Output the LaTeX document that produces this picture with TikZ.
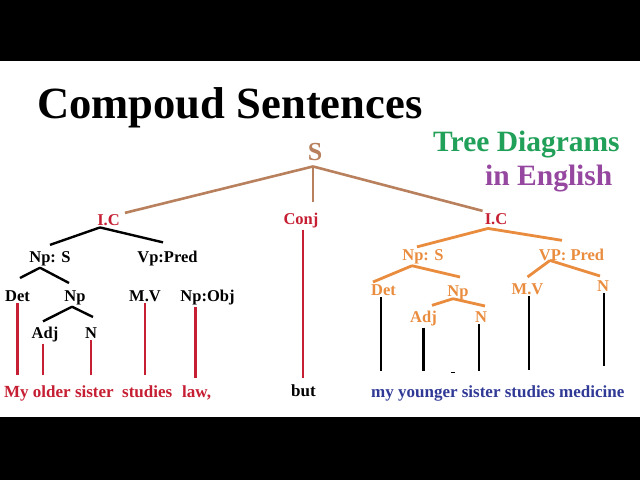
\documentclass[tikz,border=0pt]{standalone}
\usepackage{fontspec}
\setmainfont{Liberation Serif}
\usetikzlibrary{calc}
\definecolor{icred}{RGB}{198,30,50}
\definecolor{sbrown}{RGB}{184,128,92}
\definecolor{orng}{RGB}{234,140,62}
\definecolor{tgreen}{RGB}{32,160,88}
\definecolor{tpurple}{RGB}{150,72,160}
\definecolor{tblue}{RGB}{48,58,150}
\tikzset{
  lbl/.style={anchor=base, inner sep=2pt, font=\fontsize{16.5}{18}\selectfont\bfseries},
  redlbl/.style={lbl, text=icred},
  orlbl/.style={lbl, text=orng},
  blkline/.style={draw=black, line width=2.4pt},
  brline/.style={draw=sbrown, line width=2.6pt},
  orline/.style={draw=orng, line width=2.8pt},
  redv/.style={draw=icred, line width=2.8pt},
  blkv/.style={draw=black, line width=2.8pt},
  sent/.style={anchor=base west, inner sep=0pt, font=\fontsize{17}{19}\selectfont\bfseries},
}
\begin{document}
\begin{tikzpicture}[x=1pt,y=-1pt]
\useasboundingbox (0,0) rectangle (640,480);
\fill[white] (0,0) rectangle (640,480);
\fill[black] (0,0) rectangle (640,61);
\fill[black] (0,417) rectangle (640,480);
% titles
\node[anchor=base west, inner sep=0pt, font=\fontsize{44.6}{50}\selectfont\bfseries] (title) at (37,118) {Compoud Sentences};
\node[anchor=base west, inner sep=0pt, text=tgreen, font=\fontsize{29.5}{32}\selectfont\bfseries] (tree) at (433,151) {Tree Diagrams};
\node[anchor=base west, inner sep=0pt, text=tpurple, font=\fontsize{29.5}{32}\selectfont\bfseries] (eng) at (485,185) {in English};
% root
\node[lbl, text=sbrown, font=\fontsize{26}{28}\selectfont\bfseries] (S) at (315,160) {S};
\node[redlbl] (ICL) at (108.5,225) {I.C};
\node[redlbl] (Conj) at (301,224) {Conj};
\node[redlbl] (ICR) at (496,224) {I.C};
% left clause
\node[lbl] (NpSL) at (50,262) {Np: S};
\node[lbl] (VpL) at (167.5,262) {Vp:Pred};
\node[lbl] (DetL) at (17.5,301) {Det};
\node[lbl] (NpL) at (75,301) {Np};
\node[lbl] (MVL) at (145,301) {M.V};
\node[lbl] (ObjL) at (207.5,301) {Np:Obj};
\node[lbl] (AdjL) at (45,338) {Adj};
\node[lbl] (NL) at (91,338) {N};
% right clause
\node[orlbl] (NpSR) at (423,260) {Np: S};
\node[orlbl] (VPR) at (571.5,260) {VP: Pred};
\node[orlbl] (DetR) at (383.5,295) {Det};
\node[orlbl] (NpR) at (458,296) {Np};
\node[orlbl] (MVR) at (527.5,294) {M.V};
\node[orlbl] (NVR) at (603,291) {N};
\node[orlbl] (AdjR) at (423.5,322) {Adj};
\node[orlbl] (NR) at (481,322) {N};
% sentences
\node[sent, text=icred] (w1) at (4,397) {My older sister};
\node[sent, text=icred] (w2) at (122,397) {studies};
\node[sent, text=icred] (w3) at (182,397) {law,};
\node[lbl, inner sep=0pt, font=\fontsize{17}{19}\selectfont\bfseries] (but) at (303.5,396) {but};
\node[sent, text=tblue] (w4) at (371,397) {my younger sister studies medicine};
% junction points and free ends
\coordinate (Sj) at ([xshift=-2pt,yshift=-4pt]S.south);
\coordinate (redEnd) at (0,375);
\coordinate (blkEnd) at (0,371);
% root branches
\draw[brline] (Sj) -- ([xshift=3pt,yshift=-1pt]ICL.north east);
\draw[brline] (Sj) -- ++(0,36);
\draw[brline] (Sj) -- (ICR.north west);
% left tree
\coordinate (ICLj) at ([xshift=-8.5pt]ICL.south);
\draw[blkline] (ICLj) -- ([yshift=4pt]NpSL.north);
\draw[blkline] (ICLj) -- ([xshift=-4.5pt,yshift=6pt]VpL.north);
\coordinate (NpSLj) at ([xshift=-10pt]NpSL.south);
\draw[blkline] (NpSLj) -- ([xshift=2.5pt,yshift=10pt]DetL.north);
\draw[blkline] (NpSLj) -- ([xshift=-6pt,yshift=5pt]NpL.north);
\coordinate (NpLj) at ([xshift=-3pt]NpL.south);
\draw[blkline] (NpLj) -- ([xshift=-2pt,yshift=3pt]AdjL.north);
\draw[blkline] (NpLj) -- ([xshift=2pt,yshift=8pt]NL.north);
% left verticals
\draw[redv] (DetL.south) -- (DetL.south |- redEnd);
\draw[redv] ([xshift=-2pt]AdjL.south) -- ([xshift=-2pt]AdjL.south |- redEnd);
\draw[redv] (NL.south) -- (NL.south |- redEnd);
\draw[redv] (MVL.south) -- (MVL.south |- redEnd);
\draw[redv] ([xshift=-12pt]ObjL.south) -- ([xshift=-12pt,yshift=-3pt]ObjL.south |- redEnd);
\draw[redv] ([xshift=2pt]Conj.south) -- ([xshift=2pt,yshift=-3pt]Conj.south |- redEnd);
% right tree
\coordinate (ICRj) at ([xshift=-8pt,yshift=-2pt]ICR.south);
\draw[orline] (ICRj) -- ([xshift=-6pt]NpSR.north);
\draw[orline] (ICRj) -- ([xshift=-9.5pt,yshift=6pt]VPR.north);
\coordinate (NpSRj) at ([xshift=-11pt]NpSR.south);
\draw[orline] (NpSRj) -- ([xshift=-10.5pt]DetR.north);
\draw[orline] (NpSRj) -- ([xshift=2pt,yshift=6pt]NpR.north);
\coordinate (VPRj) at ([xshift=-21.5pt,yshift=2pt]VPR.south);
\draw[orline] (VPRj) -- ([yshift=4pt]MVR.north);
\draw[orline] (VPRj) -- ([xshift=-3pt,yshift=2pt]NVR.north);
\coordinate (NpRj) at ([xshift=-5pt,yshift=3pt]NpR.south);
\draw[orline] (NpRj) -- ([xshift=8.5pt,yshift=3pt]AdjR.north);
\draw[orline] (NpRj) -- ([xshift=4pt,yshift=3pt]NR.north);
% right verticals
\draw[blkv] ([xshift=-2.5pt]DetR.south) -- ([xshift=-2.5pt]DetR.south |- blkEnd);
\draw[blkv] (AdjR.south) -- (AdjR.south |- blkEnd);
\draw[blkv] ([xshift=-2pt]NR.south) -- ([xshift=-2pt]NR.south |- blkEnd);
\draw[blkv] ([xshift=1.5pt]MVR.south) -- ([xshift=1.5pt,yshift=1pt]MVR.south |- blkEnd);
\draw[blkv] ([xshift=1pt]NVR.south) -- ([xshift=1pt,yshift=5pt]NVR.south |- blkEnd);
\coordinate (dash) at (451,372);
\draw[black, line width=1pt] (dash) -- ++(4,0);
\end{tikzpicture}
\end{document}
